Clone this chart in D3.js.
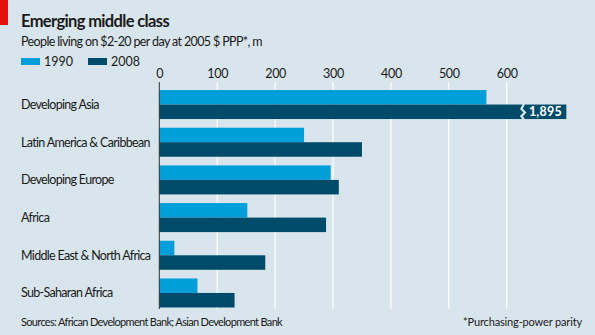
<!DOCTYPE html>
<html><head><meta charset="utf-8">
<script src="https://cdn.jsdelivr.net/npm/d3@7"></script>
<style>
html,body{margin:0;padding:0;background:#d8e5ed;}
svg{display:block;font-family:Lato,sans-serif;}
</style></head>
<body><svg id="c" width="595" height="335"></svg>
<script>
const categories = ["Developing Asia","Latin America & Caribbean","Developing Europe","Africa","Middle East & North Africa","Sub-Saharan Africa"];
const series = ["1990","2008"];
const values1990 = [565, 250, 296, 152, 26, 66];
const values2008 = [1895, 350, 310, 288, 183, 130];
const ticks = [0,100,200,300,400,500,600];
const breakCap = 703; // bars above axis range are drawn truncated with a break
const colors = {"1990":"#009fda","2008":"#004b69"};

const svg = d3.select("#c");
const W=595,H=335;
// squeeze text to a target width by adjusting letter-spacing
function fit(sel, target){
  const n = sel.node(); const w = n.getComputedTextLength(); const c = n.textContent.length;
  sel.attr("letter-spacing", ((target - w)/c).toFixed(3));
  return (target - w)/c;
}

svg.append("rect").attr("width",W).attr("height",H).attr("fill","#d8e5ed");
svg.append("rect").attr("x",0).attr("y",0).attr("width",8).attr("height",25).attr("fill","#e3120b");

fit(svg.append("text").attr("x",21).attr("y",26.5).text("Emerging middle class")
  .attr("font-size",16.5).attr("font-weight","bold").attr("fill","#1a1a1a"), 148);
fit(svg.append("text").attr("x",21).attr("y",45.5).text("People living on $2-20 per day at 2005 $ PPP*, m")
  .attr("font-size",12.5).attr("fill","#1a1a1a"), 241);

// legend
const leg = svg.append("g");
series.forEach((s,i)=>{
  const lx = 21 + i*67;
  leg.append("rect").attr("x",lx).attr("y",58).attr("width",19).attr("height",7).attr("fill",colors[s]);
  leg.append("text").attr("x",lx+23).attr("y",66).text(s).attr("font-size",12.5).attr("fill","#1a1a1a");
});

const x = d3.scaleLinear().domain([0,600]).range([159.3,506.7]);
const y0 = d3.scaleBand().domain(categories).range([85.5,312]).paddingInner(0.23).paddingOuter(0.12);
const y1 = d3.scaleBand().domain(series).range([0,y0.bandwidth()]);

// gridlines
svg.append("g").selectAll("line").data(ticks.slice(1)).join("line")
  .attr("x1",d=>x(d)).attr("x2",d=>x(d)).attr("y1",82).attr("y2",309)
  .attr("stroke","#ffffff").attr("stroke-width",1.2);

// axis labels via d3.axisTop
const ax = svg.append("g").attr("transform","translate(0,82)")
  .call(d3.axisTop(x).tickValues(ticks).tickSize(0).tickPadding(4.5));
ax.select(".domain").remove();
ax.selectAll("text").attr("font-size",12.5).attr("font-family","Lato, sans-serif").attr("fill","#1a1a1a").attr("letter-spacing",-0.3);

const rows = categories.map((c,i)=>({cat:c, vals:[{s:"1990",v:values1990[i]},{s:"2008",v:values2008[i]}]}));
const g = svg.append("g").selectAll("g").data(rows).join("g")
  .attr("transform",d=>`translate(0,${y0(d.cat)})`);
g.selectAll("rect").data(d=>d.vals).join("rect")
  .attr("x",x(0)).attr("y",d=>y1(d.s)).attr("height",y1.bandwidth())
  .attr("width",d=>x(Math.min(d.v,breakCap))-x(0)).attr("fill",d=>colors[d.s]);

// break + value label for truncated bars
rows.forEach(r=>{
  r.vals.filter(d=>d.v>breakCap).forEach(d=>{
    const yy=y0(r.cat)+y1(d.s), h=y1.bandwidth(), bx=x(628);
    const zz=[[bx+1,yy-0.5],[bx-1.5,yy+h*0.3],[bx+2,yy+h*0.55],[bx-1.5,yy+h*0.8],[bx+1,yy+h+0.5]];
    svg.append("path").attr("d",d3.line()(zz)).attr("fill","none").attr("stroke","#d8e5ed").attr("stroke-width",2.2);
    svg.append("text").attr("x",bx+6).attr("y",yy+h/2+4.5).text(d3.format(",")(d.v))
      .attr("font-size",12.5).attr("font-weight","bold").attr("fill","#ffffff").attr("letter-spacing",0.2);
  });
});

// zero axis
svg.append("line").attr("x1",x(0)).attr("x2",x(0)).attr("y1",82).attr("y2",309).attr("stroke","#333").attr("stroke-width",1);

// category labels
const cl = svg.append("g").selectAll("text").data(categories).join("text")
  .attr("x",21).attr("y",d=>y0(d)+y0.bandwidth()/2+4.5).text(d=>d)
  .attr("font-size",12.5).attr("fill","#1a1a1a");
const ls = fit(cl.filter(d=>d==="Latin America & Caribbean"), 129);
cl.attr("letter-spacing", ls.toFixed(3));

fit(svg.append("text").attr("x",21).attr("y",325.7).text("Sources: African Development Bank; Asian Development Bank")
  .attr("font-size",11).attr("fill","#1a1a1a"), 261);
const fn = svg.append("text").attr("x",463).attr("y",325.7).text("*Purchasing-power parity")
  .attr("font-size",11).attr("fill","#1a1a1a");
fit(fn, 119);
</script></body></html>
